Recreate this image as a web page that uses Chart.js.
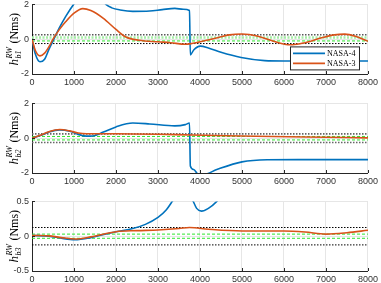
<!DOCTYPE html>
<html>
<head>
<meta charset="utf-8">
<script src="https://cdn.jsdelivr.net/npm/chart.js@4.4.0/dist/chart.umd.min.js"></script>
<style>
    html, body { margin: 0; padding: 0; background: #fff; overflow: hidden; width: 381px; height: 283px; }
    .plot { position: absolute; left: 0; width: 381px; }
</style>
</head>
<body>
<div class="plot" style="top:-4px"><canvas id="c1" width="381" height="94"></canvas></div>
<div class="plot" style="top:95px"><canvas id="c2" width="381" height="94"></canvas></div>
<div class="plot" style="top:193px"><canvas id="c3" width="381" height="94"></canvas></div>
<script>
// x axis
const xTicks = [0, 1000, 2000, 3000, 4000, 5000, 6000, 7000, 8000];
const seriesNames = ['NASA-4', 'NASA-3'];

// h_b1 (top panel)
const tBlue1 = [0, 80, 190, 300, 400, 520, 650, 800, 990, 1200, 1450, 1600, 1760, 1900, 2100, 2400, 2800, 3100, 3400, 3600, 3750, 3770, 3850, 4005, 4200, 4500, 4980, 5540, 6000, 7000, 8000];
const hBlue1 = [0, -0.85, -1.3, -1.15, -0.6, 0, 0.65, 1.3, 2.0, 2.6, 2.8, 2.5, 2.0, 1.8, 1.68, 1.6, 1.62, 1.7, 1.77, 1.72, 1.65, -0.9, -0.62, -0.4, -0.5, -0.75, -1.05, -1.23, -1.25, -1.25, -1.25];
const tRed1 = [0, 80, 190, 300, 400, 500, 650, 800, 1000, 1210, 1400, 1700, 2000, 2235, 2550, 3000, 3300, 3650, 3800, 4000, 4440, 4700, 5000, 5380, 5700, 6010, 6200, 6500, 6900, 7200, 7450, 7700, 8000];
const hRed1 = [0, -0.65, -0.96, -0.8, -0.45, 0, 0.55, 1.0, 1.5, 1.76, 1.65, 1.2, 0.56, 0.13, -0.06, -0.15, -0.2, -0.29, -0.25, -0.15, 0.1, 0.25, 0.3, 0.17, -0.08, -0.29, -0.32, -0.2, 0.08, 0.25, 0.29, 0.17, -0.12];
const yTicks1 = [-2, 0, 2];
const outer1 = [0.25, -0.25];
const inner1 = [0.1, -0.1];

// h_b2 (middle panel)
const tBlue2 = [0, 200, 400, 660, 900, 1100, 1300, 1450, 1700, 2000, 2400, 2800, 3400, 3650, 3750, 3770, 3850, 3950, 4100, 4400, 5000, 5600, 6500, 8000];
const hBlue2 = [0, 0.15, 0.35, 0.48, 0.4, 0.22, 0.12, 0.13, 0.35, 0.65, 0.87, 0.82, 0.71, 0.78, 0.87, -1.6, -1.8, -2.05, -2.08, -1.8, -1.36, -1.24, -1.23, -1.23];
const tRed2 = [0, 200, 400, 660, 900, 1100, 1300, 2000, 3000, 3800, 5000, 6500, 8000];
const hRed2 = [0, 0.17, 0.37, 0.5, 0.42, 0.3, 0.26, 0.26, 0.23, 0.18, 0.13, 0.07, 0.02];
const yTicks2 = [-2, 0, 2];
const outer2 = [0.25, -0.25];
const inner2 = [0.1, -0.1];

// h_b3 (bottom panel)
const tBlue3 = [0, 400, 700, 1020, 1400, 2000, 2400, 2700, 3000, 3200, 3340, 3500, 3700, 3770, 3790, 3840, 3920, 4035, 4200, 4400, 4600, 5000, 6000, 8000];
const hBlue3 = [0.01, 0.0, -0.03, -0.05, -0.02, 0.065, 0.11, 0.17, 0.27, 0.38, 0.5, 0.65, 0.8, 0.85, 0.6, 0.5, 0.4, 0.36, 0.4, 0.5, 0.65, 0.9, 1.1, 1.2];
const tRed3 = [0, 400, 700, 1020, 1400, 2000, 2500, 3000, 3500, 3750, 4200, 5000, 6000, 6500, 7000, 7500, 8000];
const hRed3 = [0.01, 0.005, -0.02, -0.04, -0.01, 0.065, 0.08, 0.09, 0.11, 0.125, 0.1, 0.075, 0.075, 0.06, 0.03, 0.05, 0.085];
const yTicks3 = [-0.5, 0, 0.5];
const outer3 = [0.125, -0.125];
const inner3 = [0.03, -0.03];

const BLUE = '#0072BD';
const RED = '#D95319';
const AXIS = '#262626';

function pts(t, h) {
    return t.map((x, i) => ({ x: x, y: h[i] }));
}

function hline(v) {
    return [{ x: xTicks[0], y: v }, { x: xTicks[xTicks.length - 1], y: v }];
}

// y label with sub/superscript
const yLabel = {
    id: 'yLabel',
    afterDraw(chart, args, opts) {
        const ctx = chart.ctx, a = chart.chartArea;
        ctx.save();
        ctx.translate(13, (a.top + a.bottom) / 2);
        ctx.rotate(-Math.PI / 2);
        ctx.fillStyle = '#000';
        ctx.textBaseline = 'alphabetic';
        const fMain = 'italic 13px "Liberation Serif"';
        const fSmall = 'italic 8px "Liberation Serif"';
        const fUnit = '12px "Liberation Serif"';
        ctx.font = fMain;
        const wh = ctx.measureText('h').width;
        ctx.font = fSmall;
        const wSup = ctx.measureText('RW').width;
        const wSub = ctx.measureText(opts.sub).width;
        ctx.font = fUnit;
        const wUnit = ctx.measureText(' (Nms)').width;
        const total = wh + Math.max(wSup, wSub) + 1 + wUnit;
        let x = -total / 2;
        const base = 4.5;
        ctx.font = fMain;
        ctx.fillText('h', x, base);
        x += wh + 0.5;
        ctx.font = fSmall;
        ctx.fillText('RW', x, base - 6);
        ctx.fillText(opts.sub, x, base + 3);
        x += Math.max(wSup, wSub) + 0.5;
        ctx.font = fUnit;
        ctx.fillText(' (Nms)', x, base);
        ctx.restore();
    }
};

// inward tick marks, MATLAB style
const inTicks = {
    id: 'inTicks',
    afterDraw(chart) {
        const ctx = chart.ctx, a = chart.chartArea;
        const xs = chart.scales.x, ys = chart.scales.y;
        ctx.save();
        ctx.strokeStyle = AXIS;
        ctx.lineWidth = 1;
        ctx.beginPath();
        xs.ticks.forEach(t => {
            const px = Math.round(xs.getPixelForValue(t.value)) + 0.5;
            ctx.moveTo(px, a.bottom);
            ctx.lineTo(px, a.bottom - 3);
        });
        ys.ticks.forEach(t => {
            const py = Math.round(ys.getPixelForValue(t.value)) + 0.5;
            ctx.moveTo(a.left, py);
            ctx.lineTo(a.left + 3, py);
        });
        ctx.stroke();
        ctx.restore();
    }
};

// boxed legend inside top panel
const boxLegend = {
    id: 'boxLegend',
    afterDraw(chart, args, opts) {
        if (!opts.show) return;
        const ctx = chart.ctx, a = chart.chartArea;
        const left = a.right - 78, top = a.top + 42, w = 69, h = 23;
        ctx.save();
        ctx.fillStyle = '#fff';
        ctx.fillRect(left, top, w, h);
        ctx.strokeStyle = AXIS;
        ctx.lineWidth = 1;
        ctx.strokeRect(left + 0.5, top + 0.5, w, h);
        const colors = [BLUE, RED];
        ctx.font = '8px "Liberation Serif"';
        ctx.textBaseline = 'middle';
        ctx.fillStyle = '#000';
        seriesNames.forEach((name, i) => {
            const y = top + 7 + i * 10;
            ctx.strokeStyle = colors[i];
            ctx.lineWidth = 1.6;
            ctx.beginPath();
            ctx.moveTo(left + 3, y);
            ctx.lineTo(left + 35, y);
            ctx.stroke();
            ctx.fillText(name, left + 37, y + 0.5);
        });
        ctx.restore();
    }
};

function makeChart(id, blue, red, yTicks, outer, inner, sub, opts) {
    const ctx = document.getElementById(id).getContext('2d');
    const datasets = [
        { label: seriesNames[1], data: red, borderColor: RED, borderWidth: 1.6 },
        { label: seriesNames[0], data: blue, borderColor: BLUE, borderWidth: 1.6 }
    ];
    outer.forEach(v => datasets.push({
        data: hline(v), borderColor: opts.outerColor, borderWidth: opts.outerWidth, borderDash: [1.5, 1.5]
    }));
    inner.forEach((v, i) => datasets.push({
        data: hline(v),
        borderColor: (opts.lightTop && i === 0) ? '#a6eea6' : '#2ee62e',
        borderWidth: (opts.lightTop && i === 0) ? 2.5 : 1,
        borderDash: (opts.lightTop && i === 0) ? [2, 1.5] : [3, 2]
    }));
    datasets.forEach(d => {
        d.pointRadius = 0;
        d.fill = false;
        d.cubicInterpolationMode = 'monotone';
    });

    return new Chart(ctx, {
        type: 'line',
        data: { datasets: datasets },
        options: {
            responsive: false,
            animation: false,
            events: [],
            layout: { padding: { top: 8, right: 10, left: 0, bottom: 0 } },
            plugins: {
                legend: { display: false },
                tooltip: { enabled: false },
                yLabel: { sub: sub },
                boxLegend: { show: !!opts.legend }
            },
            scales: {
                x: {
                    type: 'linear',
                    min: xTicks[0],
                    max: xTicks[xTicks.length - 1],
                    afterBuildTicks: s => { s.ticks = xTicks.map(v => ({ value: v })); },
                    afterFit: s => { s.height = 16; },
                    grid: { color: '#e6e6e6', lineWidth: 1, drawTicks: false },
                    border: { display: true, color: AXIS, width: 1 },
                    ticks: {
                        padding: 3,
                        color: '#333',
                        font: { family: '"Liberation Sans"', size: 9 },
                        maxRotation: 0,
                        autoSkip: false,
                        callback: v => String(v)
                    }
                },
                y: {
                    type: 'linear',
                    min: yTicks[0],
                    max: yTicks[yTicks.length - 1],
                    afterBuildTicks: s => { s.ticks = yTicks.map(v => ({ value: v })); },
                    afterFit: s => { s.width = 32; },
                    grid: { color: '#e6e6e6', lineWidth: 1, drawTicks: false },
                    border: { display: true, color: AXIS, width: 1 },
                    ticks: {
                        padding: 3,
                        color: '#333',
                        font: { family: '"Liberation Sans"', size: 9 },
                        callback: v => String(v)
                    }
                }
            }
        },
        plugins: [yLabel, inTicks, boxLegend]
    });
}

makeChart('c1', pts(tBlue1, hBlue1), pts(tRed1, hRed1), yTicks1, outer1, inner1, 'b1',
    { outerColor: '#000', outerWidth: 1, lightTop: true, legend: true });
makeChart('c2', pts(tBlue2, hBlue2), pts(tRed2, hRed2), yTicks2, outer2, inner2, 'b2',
    { outerColor: '#666', outerWidth: 1.6 });
makeChart('c3', pts(tBlue3, hBlue3), pts(tRed3, hRed3), yTicks3, outer3, inner3, 'b3',
    { outerColor: '#000', outerWidth: 1 });
</script>
</body>
</html>
